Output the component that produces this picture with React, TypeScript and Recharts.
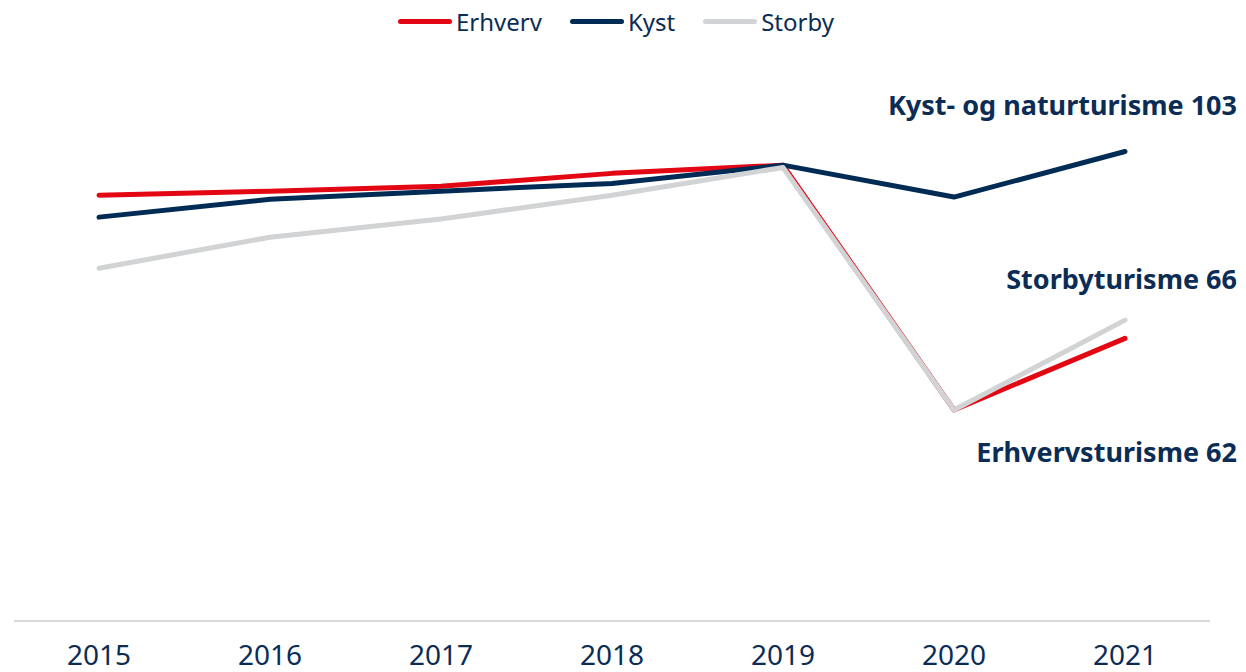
import React from "react";
import { LineChart, Line, XAxis, YAxis } from "recharts";

const years = ["2015", "2016", "2017", "2018", "2019", "2020", "2021"];
const erhverv = [93.4, 94.3, 95.4, 98.2, 100, 46.3, 62];
const kyst = [88.6, 92.5, 94.3, 96.0, 100, 93.0, 103];
const storby = [77.4, 84.2, 88.2, 93.4, 99.5, 46.3, 66];

const endLabels = {
    erhverv: "Erhvervsturisme 62",
    kyst: "Kyst- og naturturisme 103",
    storby: "Storbyturisme 66",
};

const FONT = "'Noto Sans', sans-serif";
const TEXT = "#0B2D55";

const series = [
    { key: "erhverv", name: "Erhverv", color: "#E30613", dy: 124 },
    { key: "kyst", name: "Kyst", color: "#002B55", dy: -36 },
    { key: "storby", name: "Storby", color: "#D1D3D4", dy: -31 },
];

const data = years.map((year, i) => ({
    year,
    erhverv: erhverv[i],
    kyst: kyst[i],
    storby: storby[i],
}));

function makeEndLabel(text: string, dy: number) {
    return (props: any) => {
        const { x, y, index } = props;
        if (index !== years.length - 1) return null;
        return (
            <text
                x={x + 112}
                y={y + dy}
                textAnchor="end"
                fill={TEXT}
                fontFamily={FONT}
                fontWeight={700}
                fontSize={27}
            >
                {text}
            </text>
        );
    };
}

export default function App() {
    return (
        <div style={{ position: "absolute", left: 0, top: 0, width: 1246, height: 672, background: "#fff" }}>
            <div
                style={{
                    position: "absolute",
                    top: 5,
                    left: 0,
                    width: 1232,
                    display: "flex",
                    justifyContent: "center",
                    gap: 28,
                    fontFamily: FONT,
                    fontSize: 24,
                    color: TEXT,
                }}
            >
                {series.map((s) => (
                    <div key={s.key} style={{ display: "flex", alignItems: "center" }}>
                        <div style={{ width: 54, height: 5, borderRadius: 3, background: s.color, marginRight: 4 }} />
                        <span>{s.name}</span>
                    </div>
                ))}
            </div>
            <LineChart width={1246} height={672} data={data} margin={{ top: 74, right: 36, left: 14, bottom: 0 }}>
                <XAxis
                    dataKey="year"
                    height={51}
                    padding={{ left: 85, right: 85 }}
                    tickLine={false}
                    tickMargin={18}
                    axisLine={{ stroke: "#D9D9D9", strokeWidth: 2 }}
                    tick={{ fill: TEXT, fontSize: 28, fontFamily: FONT }}
                    interval={0}
                />
                <YAxis hide domain={[0, 120]} />
                {series.map((s) => (
                    <Line
                        key={s.key}
                        dataKey={s.key}
                        name={s.name}
                        type="linear"
                        stroke={s.color}
                        strokeWidth={5}
                        strokeLinecap="round"
                        strokeLinejoin="round"
                        dot={false}
                        activeDot={false}
                        isAnimationActive={false}
                        label={makeEndLabel(endLabels[s.key as keyof typeof endLabels], s.dy)}
                    />
                ))}
            </LineChart>
        </div>
    );
}
